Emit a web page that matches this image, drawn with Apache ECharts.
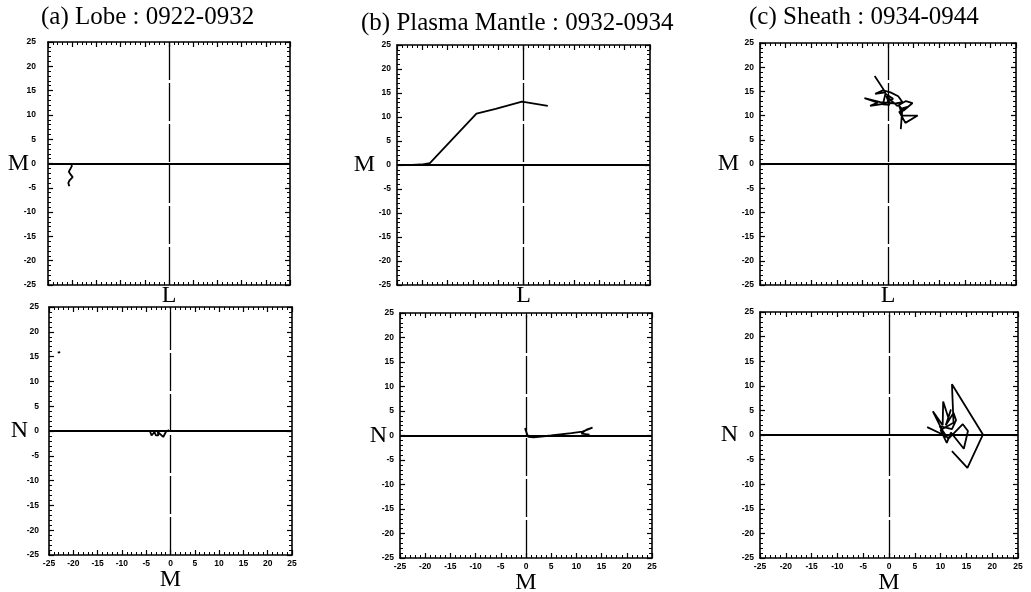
<!DOCTYPE html>
<html><head><meta charset="utf-8">
<script src="https://cdn.jsdelivr.net/npm/echarts@6/dist/echarts.min.js"></script>
<style>html,body{margin:0;padding:0;background:#fff}#c{width:1031px;height:592px}</style>
</head><body><div id="c"></div>
<script>
// ---- data ----
const titles = ['(a) Lobe : 0922-0932', '(b) Plasma Mantle : 0932-0934', '(c) Sheath : 0934-0944'];
const tickValues = [-25, -20, -15, -10, -5, 0, 5, 10, 15, 20, 25];
const topNames = ['L', 'M'];      // x, y names of upper panels
const bottomNames = ['M', 'N'];   // x, y names of lower panels

// (a) Lobe
const lobeLM = [[-20.1,0],[-20.1,-0.6],[-20.7,-1.7],[-20.3,-2.3],[-19.9,-2.8],[-20.5,-3.4],[-20.8,-4.0],[-20.6,-4.7]];
const lobeMN = [[-4.2,-0.1],[-3.9,-0.9],[-3.5,-0.9],[-3.3,-0.2],[-3.0,-0.9],[-2.5,-0.9],[-2.6,-0.2],[-2.2,-0.3],[-1.5,-1.2],[-0.9,-0.1],[-0.3,0.2]];
const lobeMNdot = [[-23.2,15.8],[-22.7,15.9]];
// (b) Plasma mantle
const mantleLM = [[-22.0,0],[-20.2,0.1],[-18.5,0.4],[-9.3,10.7],[-5.5,11.7],[-0.3,13.2],[4.8,12.3]];
const mantleMN = [[-0.2,1.5],[0.2,0.3],[0.5,-0.3],[1.5,-0.4],[5.0,0.0],[9.0,0.5],[11.2,0.8],[13.2,1.6],[12.0,1.2],[11.0,0.4],[12.6,0.2]];
// (c) Sheath
const sheathLM = [[-2.6,18.2],[-0.5,14.8],[-2.5,14.5],[-1.0,15.2],[0.5,14.8],[2.0,14.0],[2.8,12.8],[1.5,12.5],[-1.5,12.8],[-4.6,13.6],[-2.0,12.7],[-3.5,12.0],[-0.5,12.5],[1.0,13.5],[-0.5,14.5],[-1.0,12.3],[0.3,12.2],[-0.3,14.0],[1.8,12.0],[3.5,13.0],[4.8,12.6],[3.0,11.0],[2.2,12.0],[2.8,10.0],[5.8,10.0],[3.4,8.5],[2.2,10.8],[3.8,11.8],[2.8,11.5],[2.5,7.2]];
const sheathMN = [[7.4,1.6],[10.2,0.2],[11.0,-0.5],[8.5,4.8],[10.4,2.0],[10.5,6.8],[11.5,3.5],[12.0,5.2],[11.0,2.0],[12.5,4.5],[13.0,3.0],[12.2,1.2],[9.8,1.8],[11.5,-0.8],[14.3,2.2],[15.3,0.8],[14.5,-2.8],[12.0,0.5],[11.2,-1.6],[10.0,1.0],[12.5,2.5],[12.2,10.3],[18.2,0.1],[15.2,-6.7],[12.2,-3.3]];

// ---- layout ----
const panelData = [[lobeLM], [mantleLM], [sheathLM], [lobeMN, lobeMNdot], [mantleMN], [sheathMN]];
const gridPos = [
  {left: 48, top: 42, width: 242, height: 243},
  {left: 397, top: 45, width: 253, height: 240},
  {left: 760, top: 43, width: 256, height: 242},
  {left: 49, top: 307, width: 243, height: 248},
  {left: 400, top: 313, width: 252, height: 245},
  {left: 760, top: 312, width: 258, height: 246}
];
const yNameGap = [19, 22, 21, 21, 13, 22];
const yLabelMargin = [12, 6, 6, 10, 6, 6];
const titlePos = [{left: 41, top: 5}, {left: 361, top: 11}, {left: 749, top: 5}];

const vMin = tickValues[0], vMax = tickValues[tickValues.length - 1], vStep = tickValues[1] - tickValues[0];
const serif = 'Liberation Serif';
const tickFont = {fontSize: 8.5, fontWeight: 'bold', color: '#000', fontFamily: 'Liberation Sans'};

const grid = [], xAxis = [], yAxis = [], series = [];
gridPos.forEach((g, i) => {
  const bottomRow = i >= 3;
  const names = bottomRow ? bottomNames : topNames;
  grid.push(Object.assign({outerBoundsMode: 'none', containLabel: false}, g));
  const base = {
    type: 'value', gridIndex: i, min: vMin, max: vMax, interval: vStep,
    splitLine: {show: false},
    axisLine: {show: true, onZero: false, lineStyle: {color: '#000', width: 1.6}},
    axisTick: {show: true, inside: true, length: 5, lineStyle: {color: '#000', width: 1.2}},
    minorTick: {show: true, splitNumber: 5, length: 3, lineStyle: {color: '#000', width: 1}}
  };
  xAxis.push(Object.assign({}, base, {
    position: 'bottom',
    axisLabel: Object.assign({show: bottomRow, margin: 4}, tickFont),
    name: names[0], nameLocation: 'middle', nameGap: bottomRow ? 13 : -1, nameMoveOverlap: false,
    nameTextStyle: {fontFamily: serif, fontSize: 24, color: '#000'}
  }));
  xAxis.push(Object.assign({}, base, {position: 'top', axisLabel: {show: false}}));
  yAxis.push(Object.assign({}, base, {
    position: 'left',
    axisLabel: Object.assign({show: true, margin: yLabelMargin[i]}, tickFont),
    name: names[1], nameLocation: 'middle', nameRotate: 0, nameGap: yNameGap[i], nameMoveOverlap: false,
    nameTextStyle: {fontFamily: serif, fontSize: 24, color: '#000'}
  }));
  yAxis.push(Object.assign({}, base, {position: 'right', axisLabel: {show: false}}));

  panelData[i].forEach((d, k) => {
    const s = {
      type: 'line', xAxisIndex: 2 * i, yAxisIndex: 2 * i, data: d,
      showSymbol: false, symbol: 'none', animation: false, silent: true,
      lineStyle: {color: '#000', width: 1.8}, z: 5
    };
    if (k === 0) {
      s.markLine = {
        silent: true, symbol: ['none', 'none'], label: {show: false}, animation: false,
        data: [
          {xAxis: 0, lineStyle: {color: '#000', width: 1.3, type: [38, 3]}},
          {yAxis: 0, lineStyle: {color: '#000', width: 2, type: 'solid'}}
        ]
      };
    }
    series.push(s);
  });
});

const title = titles.map((t, j) => ({
  text: t, left: titlePos[j].left, top: titlePos[j].top, padding: 0,
  textStyle: {fontFamily: serif, fontSize: 25, fontWeight: 'normal', color: '#000'}
}));

const chart = echarts.init(document.getElementById('c'), null, {renderer: 'canvas'});
chart.setOption({backgroundColor: '#fff', animation: false, title, grid, xAxis, yAxis, series});
</script></body></html>
